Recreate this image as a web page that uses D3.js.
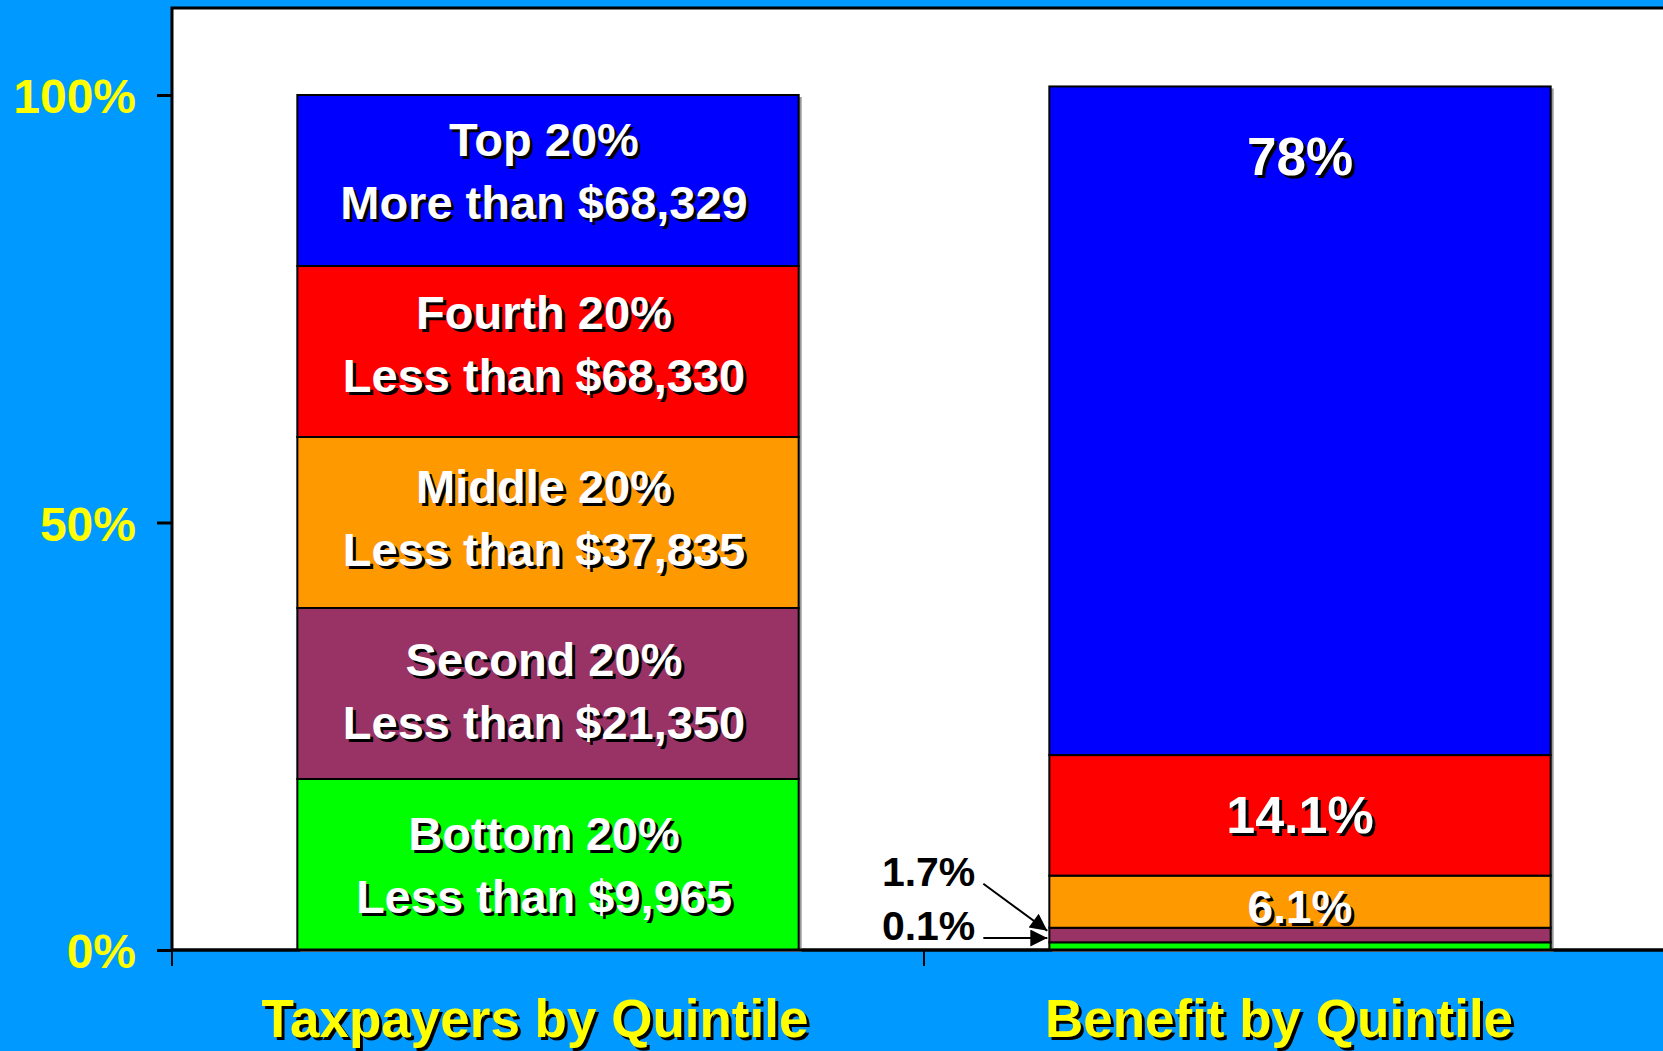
<!DOCTYPE html>
<html>
<head>
<meta charset="utf-8">
<script src="https://cdn.jsdelivr.net/npm/d3@7"></script>
<style>
  body { margin: 0; background: #0099ff; overflow: hidden; }
  text { font-family: "Liberation Sans", Arial, sans-serif; font-weight: bold; }
</style>
</head>
<body>
<div id="chart"></div>
<script>
// chart values
var groups = ["Taxpayers by Quintile", "Benefit by Quintile"];
var quintiles = ["Bottom", "Second", "Middle", "Fourth", "Top"];
var quintileColors = ["#00ff00", "#993366", "#ff9900", "#ff0000", "#0000ff"];
var taxpayerShares = [20, 20, 20, 20, 20];
var benefitShares = [0.9, 1.7, 6.1, 14.1, 78.2];
var taxpayerLabels = [
  ["Bottom 20%", "Less than $9,965"],
  ["Second 20%", "Less than $21,350"],
  ["Middle 20%", "Less than $37,835"],
  ["Fourth 20%", "Less than $68,330"],
  ["Top 20%", "More than $68,329"]
];
var benefitLabels = ["", "", "6.1%", "14.1%", "78%"];
var calloutLabels = ["0.1%", "1.7%"];
var yTicks = [0, 50, 100];

var width = 1663, height = 1051;
var plot = {left: 172, top: 8, bottom: 950};

// build the table for d3.stack
var table = groups.map(function(g, gi) {
  var row = {group: g};
  var src = gi === 0 ? taxpayerShares : benefitShares;
  quintiles.forEach(function(q, qi) { row[q] = src[qi]; });
  return row;
});
var series = d3.stack().keys(quintiles)(table);

var x = d3.scaleBand()
  .domain(groups)
  .range([plot.left, plot.left + 2 * 752])
  .paddingInner(1 / 3)
  .paddingOuter(1 / 6);

var y = d3.scaleLinear()
  .domain([0, 100])
  .range([plot.bottom, 95]);

var svg = d3.select("#chart").append("svg")
  .attr("width", width)
  .attr("height", height);

svg.append("defs").append("marker")
  .attr("id", "arrow")
  .attr("viewBox", "0 0 10 10")
  .attr("refX", 10).attr("refY", 5)
  .attr("markerUnits", "userSpaceOnUse")
  .attr("markerWidth", 22).attr("markerHeight", 17)
  .attr("orient", "auto")
  .append("path")
  .attr("d", "M0,0L10,5L0,10Z")
  .attr("fill", "#000");

// white plotting area
svg.append("rect")
  .attr("x", plot.left).attr("y", plot.top)
  .attr("width", width).attr("height", plot.bottom - plot.top)
  .attr("fill", "#fff")
  .attr("stroke", "#000")
  .attr("stroke-width", 3);

function shadowText(sel, tx, ty, str, size, fill, anchor) {
  sel.append("text")
    .attr("x", tx + 3).attr("y", ty + 3)
    .attr("text-anchor", anchor || "middle")
    .attr("font-size", size)
    .attr("fill", "#000")
    .text(str);
  sel.append("text")
    .attr("x", tx).attr("y", ty)
    .attr("text-anchor", anchor || "middle")
    .attr("font-size", size)
    .attr("fill", fill)
    .text(str);
}

// bar shadows
svg.append("g").selectAll("rect")
  .data(table)
  .join("rect")
  .attr("x", function(d) { return x(d.group) + 3; })
  .attr("y", function(d, i) { return y(d3.sum(i === 0 ? taxpayerShares : benefitShares)) + 2; })
  .attr("width", x.bandwidth())
  .attr("height", function(d, i) { return y(0) - y(d3.sum(i === 0 ? taxpayerShares : benefitShares)); })
  .attr("fill", "#999");

// stacked segments
var layers = svg.append("g").selectAll("g")
  .data(series)
  .join("g")
  .attr("fill", function(d, i) { return quintileColors[i]; });

layers.selectAll("rect")
  .data(function(d) { return d; })
  .join("rect")
  .attr("x", function(d) { return x(d.data.group); })
  .attr("y", function(d) { return y(d[1]); })
  .attr("width", x.bandwidth())
  .attr("height", function(d) { return y(d[0]) - y(d[1]); })
  .attr("stroke", "#000")
  .attr("stroke-width", 2);

var labels = svg.append("g");

// taxpayer segment labels, two lines each
series.forEach(function(s, i) {
  var d = s[0];
  var cx = x(groups[0]) + x.bandwidth() / 2 - 4;
  var mid = (y(d[0]) + y(d[1])) / 2;
  var shift = (2 - i) * 2.5;
  shadowText(labels, cx, mid - 20 + shift, taxpayerLabels[i][0], 47, "#fff");
  shadowText(labels, cx, mid + 43 + shift, taxpayerLabels[i][1], 47, "#fff");
});

// benefit segment labels
series.forEach(function(s, i) {
  if (!benefitLabels[i]) return;
  var d = s[1];
  var cx = x(groups[1]) + x.bandwidth() / 2;
  var ty, size;
  if (i === quintiles.length - 1) {
    ty = y(d[1]) + 89; size = 53;
  } else if (i === 3) {
    ty = (y(d[0]) + y(d[1])) / 2 + 18; size = 52;
  } else {
    ty = (y(d[0]) + y(d[1])) / 2 + 21; size = 46;
  }
  shadowText(labels, cx, ty, benefitLabels[i], size, "#fff");
});

// callouts for the two smallest benefit slices
var barLeft = x(groups[1]);
var second = series[1][1];
var tips = [(y(second[0]) + y(second[1])) / 2 + 3, y(second[1]) + 3];
var tails = [tips[0], tips[1] - 47];
calloutLabels.forEach(function(lbl, i) {
  svg.append("line")
    .attr("x1", barLeft - 66).attr("y1", tails[i])
    .attr("x2", barLeft - 2).attr("y2", tips[i])
    .attr("stroke", "#000")
    .attr("stroke-width", 2)
    .attr("marker-end", "url(#arrow)");
  svg.append("text")
    .attr("x", barLeft - 74).attr("y", tails[i] + 2)
    .attr("text-anchor", "end")
    .attr("font-size", 41)
    .attr("fill", "#000")
    .text(lbl);
});

// y axis
var yAxis = d3.axisLeft(y)
  .tickValues(yTicks)
  .tickSize(15)
  .tickPadding(21)
  .tickFormat(function(d) { return d + "%"; });

var yg = svg.append("g")
  .attr("transform", "translate(" + plot.left + ",0)")
  .call(yAxis);
yg.select(".domain").remove();
yg.selectAll(".tick line").attr("stroke", "#000").attr("stroke-width", 3);
yg.selectAll(".tick text")
  .attr("font-family", "'Liberation Sans', Arial, sans-serif")
  .attr("font-size", 48)
  .attr("fill", "#ffff00")
  .attr("dy", "0.37em");

// x axis line with ticks at the category boundaries
var xg = svg.append("g");
xg.append("line")
  .attr("x1", plot.left).attr("x2", width)
  .attr("y1", plot.bottom).attr("y2", plot.bottom)
  .attr("stroke", "#000").attr("stroke-width", 3);
xg.selectAll(".xtick")
  .data(groups)
  .join("line")
  .attr("class", "xtick")
  .attr("x1", function(d) { return x(d) - (x.step() - x.bandwidth()) / 2; })
  .attr("x2", function(d) { return x(d) - (x.step() - x.bandwidth()) / 2; })
  .attr("y1", plot.bottom).attr("y2", plot.bottom + 16)
  .attr("stroke", "#000").attr("stroke-width", 2);

groups.forEach(function(g, i) {
  shadowText(svg, x(g) + x.bandwidth() / 2 - 13 - 8 * i, 1037, g, 53, "#ffff00");
});
</script>
</body>
</html>
